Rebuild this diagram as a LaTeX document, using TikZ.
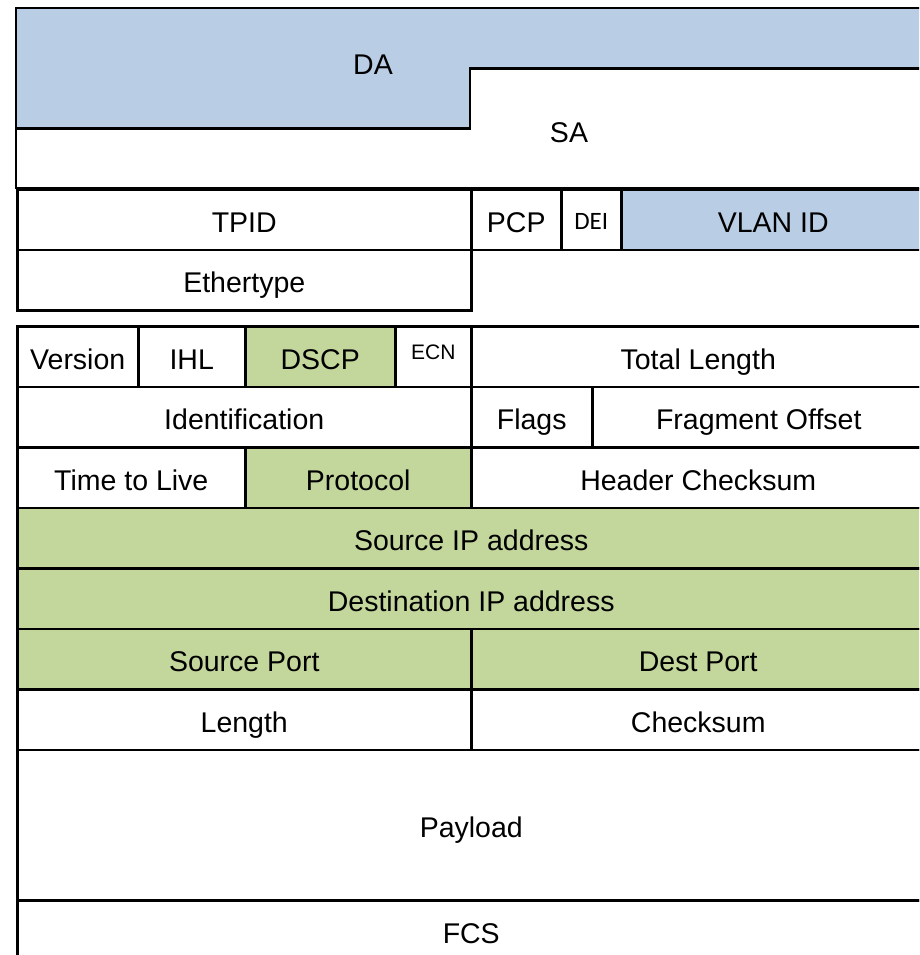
\documentclass[tikz,border=0pt]{standalone}
\usepackage{fontspec}
\setmainfont{Liberation Sans}
\newfontfamily\deifont{Carlito}
\usepackage{tikz}
\usetikzlibrary{positioning}
\definecolor{vlanblue}{HTML}{B9CDE5}
\definecolor{ipgreen}{HTML}{C3D69B}

\begin{document}
\begin{tikzpicture}[x=1pt, y=-1pt,
    field/.style={draw, rectangle, line width=2.5pt, inner sep=0pt, anchor=north west,
      minimum height=60.5pt, text height=25pt, text depth=0pt, font=\fontsize{28.5}{32}\selectfont},
    label/.style={inner sep=0pt, text height=25pt, text depth=0pt, font=\fontsize{28.5}{32}\selectfont}]
  \useasboundingbox (0,0) rectangle (919,955);
  \clip (0,0) rectangle (919,955);

  % Ethernet addresses
  \fill[vlanblue] (16,8) -- (924,8) -- (924,68.5) -- (470,68.5) -- (470,128.5) -- (16,128.5) -- cycle;
  \draw[line width=2.5pt] (924,8) -- (16,8) -- (16,188) -- (924,188);
  \draw[line width=2.5pt] (924,68.5) -- (470,68.5) -- (470,128.5) -- (16,128.5);
  \node[label] (da) at (373,62.5) {DA};
  \node[label] (sa) at (569,130) {SA};

  % 802.1Q tag
  \node[field, minimum width=454pt] (tpid) at (16,188) {TPID};
  \node[field, minimum width=90pt] (pcp) at (470,188) {PCP};
  \node[field, minimum width=60pt, text height=20pt, font=\deifont\fontsize{25}{30}\selectfont] (dei) at (560,188) {DEI};
  \node[field, minimum width=304pt, fill=vlanblue] (vlanid) at (620,188) {VLAN ID};
  \node[field, minimum width=454pt] (ethertype) at (16,248.5) {Ethertype};

  % IPv4 header
  \node[field, minimum width=121pt] (version) at (16,325) {Version};
  \node[field, minimum width=107pt] (ihl) at (137,325) {IHL};
  \node[field, minimum width=150pt, fill=ipgreen] (dscp) at (244,325) {DSCP};
  \node[field, minimum width=76pt, text height=5.5pt, font=\fontsize{21}{24}\selectfont] (ecn) at (394,325) {ECN};
  \node[field, minimum width=454pt] (totallen) at (470,325) {Total Length};
  \node[field, minimum width=454pt] (ident) at (16,385.5) {Identification};
  \node[field, minimum width=121pt] (flags) at (470,385.5) {Flags};
  \node[field, minimum width=333pt] (fragoff) at (591,385.5) {Fragment Offset};
  \node[field, minimum width=228pt] (ttl) at (16,446) {Time to Live};
  \node[field, minimum width=226pt, fill=ipgreen] (proto) at (244,446) {Protocol};
  \node[field, minimum width=454pt] (hdrcsum) at (470,446) {Header Checksum};
  \node[field, minimum width=908pt, fill=ipgreen] (srcip) at (16,506.5) {Source IP address};
  \node[field, minimum width=908pt, fill=ipgreen] (dstip) at (16,567) {Destination IP address};

  % UDP header
  \node[field, minimum width=454pt, fill=ipgreen] (srcport) at (16,627.5) {Source Port};
  \node[field, minimum width=454pt, fill=ipgreen] (dstport) at (470,627.5) {Dest Port};
  \node[field, minimum width=454pt] (length) at (16,688) {Length};
  \node[field, minimum width=454pt] (checksum) at (470,688) {Checksum};

  % payload and trailer
  \node[field, minimum width=908pt, minimum height=150.5pt] (payload) at (16,748.5) {Payload};
  \node[field, minimum width=908pt] (fcs) at (16,899) {FCS};
\end{tikzpicture}
\end{document}
